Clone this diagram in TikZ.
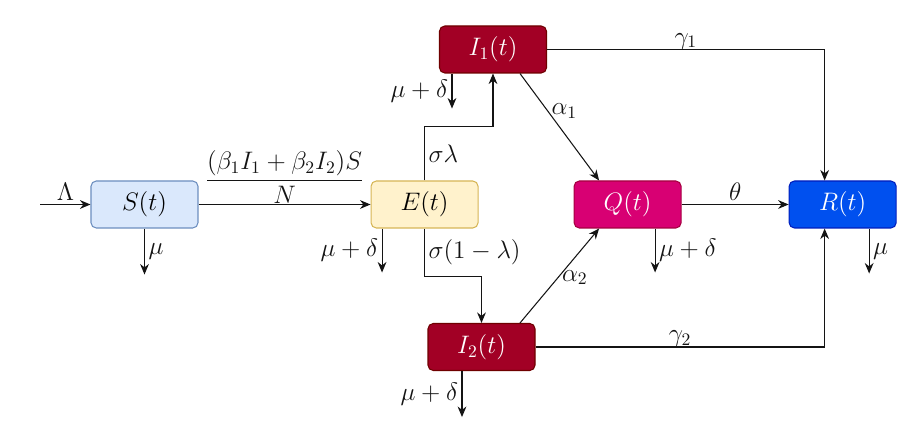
\documentclass[tikz,border=0pt]{standalone}
\usepackage{amsmath}
\usepackage{xcolor}
\usepackage{tikz}
\usetikzlibrary{arrows.meta, positioning, calc}
\definecolor{mydark}{RGB}{20,20,20}
\definecolor{myblue}{HTML}{6C8EBF}
\definecolor{hdrblue}{HTML}{DAE8FC}
\definecolor{myamber}{HTML}{D6B656}
\definecolor{hdramber}{HTML}{FFF2CC}
\definecolor{myred}{HTML}{6F0000}
\definecolor{hdrred}{HTML}{A20025}
\definecolor{mymagenta}{HTML}{A50040}
\definecolor{hdrmagenta}{HTML}{D80073}
\definecolor{myrblue}{HTML}{001DBC}
\definecolor{hdrrblue}{HTML}{0050EF}
\tikzset{
  sblock/.style={rectangle, draw=myblue, fill=hdrblue,
    minimum width=2.14cm, minimum height=0.94cm,
    font=\Large, rounded corners=3pt, line width=0.6pt},
  eblock/.style={sblock, draw=myamber, fill=hdramber},
  iblock/.style={sblock, draw=myred, fill=hdrred, text=white},
  qblock/.style={sblock, draw=mymagenta, fill=hdrmagenta, text=white},
  rblock/.style={sblock, draw=myrblue, fill=hdrrblue, text=white},
  arrow/.style={-{Stealth[length=6pt, width=5pt]}, line width=0.6pt, color=mydark},
  lbl/.style={font=\Large, color=mydark, inner sep=2pt}
}
\begin{document}
\begin{tikzpicture}
  \useasboundingbox (-2.89,-4.69) rectangle (15.55,4.09);
  \node[sblock] (S) at (0,0) {$S(t)$};
  \node[eblock, right=3.44cm of S] (E) {$E(t)$};
  \node[qblock, right=1.9cm of E] (Q) {$Q(t)$};
  \node[rblock, right=2.14cm of Q] (R) {$R(t)$};
  \node[iblock] (I1) at (6.97,3.1) {$I_1(t)$};
  \node[iblock] (I2) at (6.74,-2.85) {$I_2(t)$};
  \coordinate[left=1cm of S] (in);
  \coordinate[below=0.92cm of S] (sd);
  \coordinate[below=0.88cm of E.south, xshift=-0.85cm] (ed);
  \coordinate[below=0.7cm of I1.south, xshift=-0.82cm] (i1d);
  \coordinate[below=0.92cm of I2.south, xshift=-0.39cm] (i2d);
  \coordinate[below=0.88cm of Q.south, xshift=0.55cm] (qd);
  \coordinate[below=0.9cm of R.south, xshift=0.53cm] (rd);
  \draw[arrow] (in) -- node[lbl, above] {$\Lambda$} (S);
  \draw[arrow] (S) -- node[lbl, above, inner sep=0pt] {$\dfrac{(\beta_1I_1+\beta_2I_2)S}{N}$} (E);
  \draw[arrow] (S.south) -- node[lbl, right] {$\mu$} (sd);
  \draw[arrow] (ed |- E.south) -- node[lbl, left] {$\mu+\delta$} (ed);
  \draw[arrow] (i1d |- I1.south) -- node[lbl, left] {$\mu+\delta$} (i1d);
  \draw[arrow] (i2d |- I2.south) -- node[lbl, left] {$\mu+\delta$} (i2d);
  \draw[arrow] (qd |- Q.south) -- node[lbl, right] {$\mu+\delta$} (qd);
  \draw[arrow] (rd |- R.south) -- node[lbl, right] {$\mu$} (rd);
  \draw[arrow] (E.north) -- node[lbl, right] {$\sigma\lambda$} ++(0,1.08) -| (I1.south);
  \draw[arrow] (E.south) -- node[lbl, right] {$\sigma(1-\lambda)$} ++(0,-0.96) -| (I2.north);
  \draw[arrow] ([xshift=0.54cm]I1.south) -- node[lbl, pos=0.35, right] {$\alpha_1$} ([xshift=-0.57cm]Q.north);
  \draw[arrow] ([xshift=0.77cm]I2.north) -- node[lbl, pos=0.48, right] {$\alpha_2$} ([xshift=-0.57cm]Q.south);
  \draw[arrow] (I1.east) -| node[lbl, pos=0.25, above, inner sep=0pt] {$\gamma_1$} ([xshift=-0.36cm]R.north);
  \draw[arrow] (I2.east) -| node[lbl, pos=0.25, above, inner sep=0pt] {$\gamma_2$} ([xshift=-0.36cm]R.south);
  \draw[arrow] (Q) -- node[lbl, above] {$\theta$} (R);
\end{tikzpicture}
\end{document}
